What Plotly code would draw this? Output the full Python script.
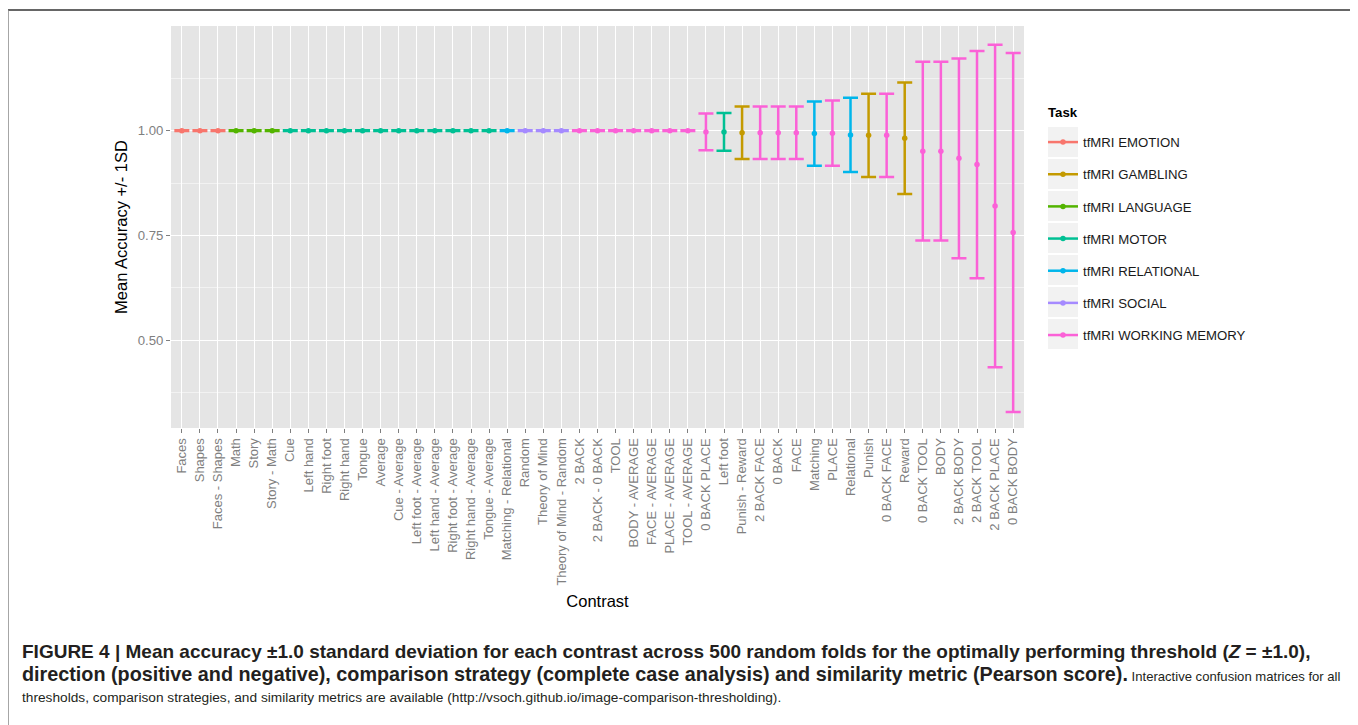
import plotly.graph_objects as go

# ---------------- data ----------------
contrasts = [
    "Faces", "Shapes", "Faces - Shapes",
    "Math", "Story", "Story - Math",
    "Cue", "Left hand", "Right foot", "Right hand", "Tongue", "Average",
    "Cue - Average", "Left foot - Average", "Left hand - Average",
    "Right foot - Average", "Right hand - Average", "Tongue - Average",
    "Matching - Relational",
    "Random", "Theory of Mind", "Theory of Mind - Random",
    "2 BACK", "2 BACK - 0 BACK", "TOOL", "BODY - AVERAGE", "FACE - AVERAGE",
    "PLACE - AVERAGE", "TOOL - AVERAGE",
    "0 BACK PLACE", "Left foot", "Punish - Reward", "2 BACK FACE", "0 BACK",
    "FACE", "Matching", "PLACE", "Relational", "Punish", "0 BACK FACE",
    "Reward", "0 BACK TOOL", "BODY", "2 BACK BODY", "2 BACK TOOL",
    "2 BACK PLACE", "0 BACK BODY",
]

EMO, GAM, LAN, MOT, REL, SOC, WM = (
    "tfMRI EMOTION", "tfMRI GAMBLING", "tfMRI LANGUAGE", "tfMRI MOTOR",
    "tfMRI RELATIONAL", "tfMRI SOCIAL", "tfMRI WORKING MEMORY")

contrast_task = [
    EMO, EMO, EMO,
    LAN, LAN, LAN,
    MOT, MOT, MOT, MOT, MOT, MOT, MOT, MOT, MOT, MOT, MOT, MOT,
    REL,
    SOC, SOC, SOC,
    WM, WM, WM, WM, WM, WM, WM,
    WM, MOT, GAM, WM, WM, WM, REL, WM, REL, GAM, WM, GAM,
    WM, WM, WM, WM, WM, WM,
]

mean_accuracy = [
    1.0, 1.0, 1.0,
    1.0, 1.0, 1.0,
    1.0, 1.0, 1.0, 1.0, 1.0, 1.0, 1.0, 1.0, 1.0, 1.0, 1.0, 1.0,
    1.0,
    1.0, 1.0, 1.0,
    1.0, 1.0, 1.0, 1.0, 1.0, 1.0, 1.0,
    0.997, 0.997, 0.995, 0.995, 0.995, 0.995, 0.993, 0.994, 0.990, 0.989,
    0.989, 0.982, 0.951, 0.951, 0.934, 0.919, 0.820, 0.757,
]

sd_accuracy = [
    0.001, 0.001, 0.001,
    0.001, 0.001, 0.001,
    0.001, 0.001, 0.001, 0.001, 0.001, 0.001, 0.001, 0.001, 0.001, 0.001, 0.001, 0.001,
    0.001,
    0.001, 0.001, 0.001,
    0.001, 0.001, 0.001, 0.001, 0.001, 0.001, 0.001,
    0.044, 0.045, 0.0625, 0.0625, 0.0625, 0.0625, 0.077, 0.078, 0.0885,
    0.0995, 0.0995, 0.133, 0.2135, 0.2135, 0.2385, 0.2715, 0.385, 0.4285,
]

task_order = [EMO, GAM, LAN, MOT, REL, SOC, WM]
task_colors = ["#F8766D", "#C49A00", "#53B400", "#00C094", "#00B6EB",
               "#A58AFF", "#FB61D7"]

y_ticks = [0.50, 0.75, 1.00]
y_ticktext = ["0.50", "0.75", "1.00"]

# ---------------- layout geometry (page px) ----------------
OFF = 8                      # default HTML body margin
W, H = 1358 - OFF, 725 - OFF
L, R, T, B = 171, 1024, 26, 428   # plot area in page pixels


def px_x(px):
    return (px - L) / (R - L)


def px_y(py):
    return (B - py) / (B - T)


FONT = "Liberation Sans, Arial, Helvetica, sans-serif"

fig = go.Figure()

for task, color in zip(task_order, task_colors):
    xs, ys, es = [], [], []
    for c, t, m, s in zip(contrasts, contrast_task, mean_accuracy, sd_accuracy):
        if t == task:
            xs += [c, None]
            ys += [m, None]
            es += [s, None]
    fig.add_trace(go.Scatter(
        x=xs, y=ys, name=task, legendgroup=task,
        mode="lines+markers", connectgaps=False,
        line=dict(color=color, width=2.5),
        marker=dict(color=color, size=5.5),
        error_y=dict(type="data", array=es, symmetric=True, color=color,
                     thickness=2.5, width=7.5),
        hoverinfo="x+y",
    ))

shapes = []
# legend key backgrounds
for i in range(len(task_order)):
    top = 126 + i * 32
    shapes.append(dict(type="rect", xref="paper", yref="paper",
                       x0=px_x(1048), x1=px_x(1078),
                       y0=px_y(top + 31), y1=px_y(top + 1),
                       fillcolor="#F2F2F2", line=dict(width=0), layer="below"))
# figure frame
shapes += [
    dict(type="line", xref="paper", yref="paper", x0=px_x(8), x1=px_x(1355),
         y0=px_y(10), y1=px_y(10), line=dict(color="#333333", width=1.5)),
    dict(type="line", xref="paper", yref="paper", x0=px_x(8), x1=px_x(8),
         y0=px_y(10), y1=px_y(730), line=dict(color="#888888", width=1.5)),
    dict(type="line", xref="paper", yref="paper", x0=px_x(1355), x1=px_x(1355),
         y0=px_y(10), y1=px_y(730), line=dict(color="#888888", width=1.5)),
]

reg2 = '<span style="font-size:13.1px;font-weight:normal">'
reg3 = '<span style="font-size:13.7px;font-weight:normal">'
caption_lines = [
    "<b>FIGURE 4 | Mean accuracy ±1.0 standard deviation for each contrast across "
    "500 random folds for the optimally performing threshold (<i>Z</i> = ±1.0),</b>",
    '<b><span style="font-size:19.8px">direction (positive and negative), '
    "comparison strategy (complete case analysis) and similarity metric "
    "(Pearson score).</span></b>" + reg2 +
    " Interactive confusion matrices for all</span>",
    reg3 + "thresholds, comparison strategies, and similarity metrics are available "
    "(http://vsoch.github.io/image-comparison-thresholding).</span>",
]
annotations = []
for i, txt in enumerate(caption_lines):
    annotations.append(dict(
        text=txt, xref="paper", yref="paper", x=px_x(20), y=px_y(651 + 23 * i),
        xanchor="left", yanchor="middle", showarrow=False, align="left",
        font=dict(family=FONT, size=19, color="#231F20")))
# legend title
annotations.append(dict(
    text="<b>Task</b>", xref="paper", yref="paper", x=px_x(1046), y=px_y(113),
    xanchor="left", yanchor="middle", showarrow=False,
    font=dict(family=FONT, size=13.2, color="#000")))

fig.update_layout(
    width=W, height=H,
    margin=dict(l=L - OFF, r=(W + OFF) - R, t=T - OFF, b=(H + OFF) - B,
                autoexpand=False),
    paper_bgcolor="white", plot_bgcolor="#E5E5E5",
    font=dict(family=FONT, size=13.2, color="#000000"),
    showlegend=True,
    legend=dict(
        x=px_x(1043), xanchor="left", y=px_y(127), yanchor="top",
        font=dict(size=13.2, color="#1A1A1A"),
        traceorder="grouped", tracegroupgap=12, itemwidth=30,
        bgcolor="rgba(0,0,0,0)", borderwidth=0,
    ),
    shapes=shapes,
    annotations=annotations,
)

fig.update_xaxes(
    type="category", categoryorder="array", categoryarray=contrasts,
    range=[-0.6, len(contrasts) - 1 + 0.6], autorange=False,
    showgrid=True, gridcolor="white", gridwidth=1.2,
    ticks="outside", ticklen=4, tickwidth=1, tickcolor="#7F7F7F",
    tickangle=-90, tickfont=dict(size=13, color="#7F7F7F"),
    showline=False, zeroline=False, automargin=False,
    title=dict(text="Contrast", font=dict(size=16.5, color="#000"), standoff=10),
)
fig.update_yaxes(
    range=[0.29, 1.25], autorange=False,
    tickmode="array", tickvals=y_ticks, ticktext=y_ticktext,
    showgrid=True, gridcolor="white", gridwidth=1.2,
    minor=dict(tickmode="linear", tick0=0.375, dtick=0.25, showgrid=True,
               gridcolor="#F2F2F2", gridwidth=0.8, ticks=""),
    ticks="outside", ticklen=4, tickwidth=1, tickcolor="#7F7F7F",
    tickfont=dict(size=13.2, color="#7F7F7F"),
    showline=False, zeroline=False, automargin=False,
    title=dict(text="Mean Accuracy +/- 1SD", font=dict(size=16.5, color="#000"),
               standoff=5),
)

fig.write_html("out.html")
